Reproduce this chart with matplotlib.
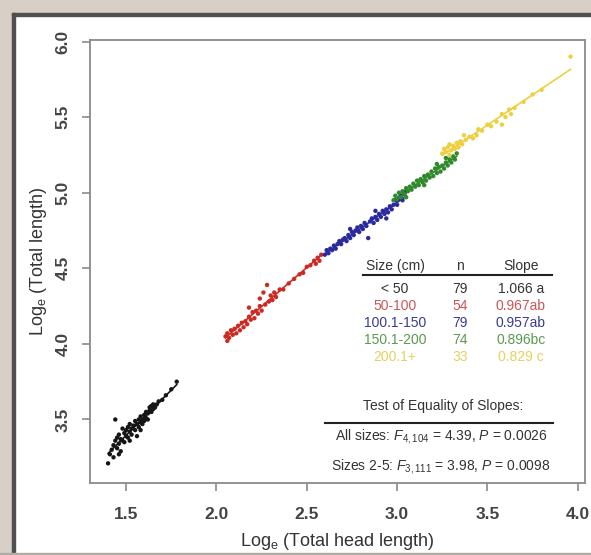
import matplotlib.pyplot as plt
import numpy as np
from matplotlib.patches import Rectangle

plt.rcParams['font.family'] = ['Liberation Sans', 'DejaVu Sans']
plt.rcParams['mathtext.fontset'] = 'custom'
plt.rcParams['mathtext.rm'] = 'Liberation Sans'
plt.rcParams['mathtext.it'] = 'Liberation Sans:italic'

# size classes, table values
size_labels = ['< 50', '50-100', '100.1-150', '150.1-200', '200.1+']
n_values = [79, 54, 79, 74, 33]
slope_labels = ['1.066 a', '0.967ab', '0.957ab', '0.896bc', '0.829 c']

# log head length / log total length
x_lt50 = [1.40, 1.41, 1.42, 1.43, 1.43, 1.44, 1.44, 1.45, 1.45, 1.46, 1.46, 1.47, 1.47, 1.48, 1.48,
          1.49, 1.49, 1.50, 1.50, 1.51, 1.51, 1.52, 1.52, 1.53, 1.53, 1.54, 1.55, 1.55, 1.56, 1.56,
          1.57, 1.57, 1.58, 1.58, 1.59, 1.59, 1.60, 1.60, 1.61, 1.61, 1.62, 1.62, 1.63, 1.63, 1.64,
          1.64, 1.65, 1.65, 1.66, 1.67, 1.68, 1.70, 1.72, 1.75, 1.78, 1.46, 1.52, 1.58]
y_lt50 = [3.21, 3.27, 3.30, 3.25, 3.33, 3.50, 3.36, 3.31, 3.38, 3.34, 3.40, 3.37, 3.29, 3.44, 3.36,
          3.41, 3.35, 3.39, 3.43, 3.38, 3.45, 3.42, 3.47, 3.44, 3.40, 3.46, 3.43, 3.49, 3.39, 3.47,
          3.50, 3.45, 3.48, 3.52, 3.50, 3.47, 3.53, 3.49, 3.51, 3.55, 3.54, 3.50, 3.56, 3.58, 3.55,
          3.59, 3.57, 3.60, 3.58, 3.60, 3.62, 3.63, 3.66, 3.70, 3.75, 3.27, 3.36, 3.43]

x_50 = [2.05, 2.06, 2.06, 2.07, 2.08, 2.09, 2.10, 2.11, 2.12, 2.13, 2.14, 2.15, 2.16, 2.17, 2.18,
        2.19, 2.20, 2.21, 2.22, 2.23, 2.24, 2.25, 2.26, 2.27, 2.28, 2.29, 2.30, 2.31, 2.32, 2.33,
        2.35, 2.37, 2.40, 2.43, 2.46, 2.48, 2.50, 2.52, 2.54, 2.55, 2.56, 2.57, 2.58, 2.24, 2.18]
y_50 = [4.05, 4.02, 4.07, 4.04, 4.09, 4.06, 4.10, 4.07, 4.12, 4.09, 4.14, 4.11, 4.15, 4.13, 4.18,
        4.16, 4.21, 4.17, 4.22, 4.20, 4.25, 4.22, 4.34, 4.26, 4.39, 4.28, 4.32, 4.29, 4.34, 4.31,
        4.36, 4.36, 4.40, 4.43, 4.46, 4.47, 4.51, 4.52, 4.55, 4.53, 4.57, 4.55, 4.59, 4.30, 4.24]

x_100 = [2.60, 2.61, 2.62, 2.63, 2.64, 2.65, 2.66, 2.67, 2.68, 2.69, 2.70, 2.71, 2.72, 2.73, 2.74,
         2.75, 2.76, 2.77, 2.78, 2.79, 2.80, 2.81, 2.82, 2.83, 2.84, 2.85, 2.86, 2.87, 2.88, 2.89,
         2.90, 2.91, 2.92, 2.93, 2.94, 2.95, 2.96, 2.97, 2.98, 2.99, 3.00, 3.01, 3.02, 3.03, 3.04,
         3.05, 2.74, 2.88, 2.94]
y_100 = [4.59, 4.62, 4.60, 4.63, 4.62, 4.65, 4.63, 4.66, 4.68, 4.66, 4.69, 4.70, 4.68, 4.72, 4.70,
         4.74, 4.72, 4.75, 4.77, 4.74, 4.78, 4.76, 4.80, 4.78, 4.70, 4.81, 4.83, 4.80, 4.84, 4.82,
         4.86, 4.84, 4.88, 4.86, 4.89, 4.87, 4.91, 4.89, 4.92, 4.95, 4.92, 4.96, 4.98, 4.95, 4.99,
         5.01, 4.76, 4.88, 4.83]

x_150 = [2.98, 2.99, 3.00, 3.01, 3.02, 3.03, 3.04, 3.05, 3.06, 3.07, 3.08, 3.09, 3.10, 3.11, 3.12,
         3.13, 3.14, 3.15, 3.16, 3.17, 3.18, 3.19, 3.20, 3.21, 3.22, 3.23, 3.24, 3.25, 3.26, 3.27,
         3.28, 3.29, 3.30, 3.31, 3.32, 3.33, 3.15, 3.22, 3.05, 3.27]
y_150 = [4.95, 4.98, 4.96, 5.00, 4.97, 5.01, 4.99, 5.03, 5.01, 5.04, 5.02, 5.06, 5.04, 5.08, 5.05,
         5.09, 5.07, 5.11, 5.08, 5.12, 5.10, 5.14, 5.11, 5.16, 5.13, 5.17, 5.14, 5.18, 5.16, 5.20,
         5.18, 5.22, 5.20, 5.24, 5.22, 5.26, 5.05, 5.19, 4.97, 5.23]

x_200 = [3.25, 3.26, 3.27, 3.28, 3.29, 3.29, 3.30, 3.31, 3.32, 3.33, 3.34, 3.35, 3.36, 3.38, 3.40,
         3.42, 3.45, 3.47, 3.50, 3.52, 3.55, 3.58, 3.60, 3.62, 3.65, 3.70, 3.75, 3.80, 3.96, 3.37,
         3.44, 3.58, 3.63]
y_200 = [5.26, 5.29, 5.27, 5.30, 5.25, 5.32, 5.28, 5.31, 5.29, 5.33, 5.30, 5.34, 5.32, 5.35, 5.37,
         5.36, 5.42, 5.41, 5.45, 5.44, 5.47, 5.52, 5.50, 5.55, 5.56, 5.60, 5.65, 5.68, 5.90, 5.38,
         5.38, 5.45, 5.52]

groups = [(x_lt50, y_lt50), (x_50, y_50), (x_100, y_100), (x_150, y_150), (x_200, y_200)]
colors = ['#151515', '#cc2a22', '#2a2a9c', '#2f8a2a', '#ecd040']
text_colors = ['#333333', '#cc5555', '#3a3a95', '#5a9a50', '#e6d060']

fig = plt.figure(figsize=(5.91, 5.55), dpi=100)
W, H = 591, 555

# window frame of the screenshot
fig.patches.append(Rectangle((0, 1 - 13 / H), 1, 13 / H, transform=fig.transFigure,
                             color='#d8d0c6', zorder=0))
fig.patches.append(Rectangle((0, 0), 12 / W, 1, transform=fig.transFigure,
                             color='#d8d0c6', zorder=0))
fig.patches.append(Rectangle((12 / W, 1 - 16 / H), 1, 3 / H, transform=fig.transFigure,
                             color='#505050', zorder=1))
fig.patches.append(Rectangle((12 / W, 0), 3 / W, 1 - 13 / H, transform=fig.transFigure,
                             color='#505050', zorder=1))
fig.patches.append(Rectangle((0, 0), 1, 2 / H, transform=fig.transFigure,
                             color='#b0aaa4', zorder=1))

ax = fig.add_axes([90 / W, 1 - 483 / H, 495 / W, 443 / H])

for (xs, ys), c in zip(groups, colors):
    xs = np.array(xs)
    ys = np.array(ys)
    ax.scatter(xs, ys, s=10, color=c, edgecolors='none', zorder=3)
    b, a = np.polyfit(xs, ys, 1)
    xl = np.array([xs.min(), xs.max()])
    ax.plot(xl, a + b * xl, color=c, lw=1.2, zorder=2)

ax.set_xlim(1.30, 4.04)
ax.set_ylim(3.08, 6.01)
ax.set_xticks([1.5, 2.0, 2.5, 3.0, 3.5, 4.0])
ax.set_yticks([3.5, 4.0, 4.5, 5.0, 5.5, 6.0])
ax.set_xticklabels(['1.5', '2.0', '2.5', '3.0', '3.5', '4.0'])
ax.set_yticklabels(['3.5', '4.0', '4.5', '5.0', '5.5', '6.0'])

for sp in ax.spines.values():
    sp.set_color('#8a8a8a')
    sp.set_linewidth(1.3)
ax.tick_params(axis='both', colors='#8a8a8a', length=6, width=1.2, labelcolor='#444444',
               labelsize=12.5)
ax.tick_params(axis='x', pad=11)
ax.tick_params(axis='y', pad=8, labelrotation=90)
for lab in ax.get_yticklabels():
    lab.set_va('center')
    lab.set_fontweight('bold')
for lab in ax.get_xticklabels():
    lab.set_fontweight('bold')

ax.set_xlabel(r'Log$_\mathregular{e}$ (Total head length)', fontsize=13, color='#333333',
              labelpad=7)
ax.set_ylabel(r'Log$_\mathregular{e}$ (Total length)', fontsize=13, color='#333333',
              labelpad=5)

# table of slopes
def fx(px):
    return (px - 90) / 495


def fy(py):
    return (483 - py) / 443


col_x = [fx(395), fx(460), fx(521)]
hdr = ['Size (cm)', 'n', 'Slope']
for cx, t in zip(col_x, hdr):
    ax.text(cx, fy(266), t, transform=ax.transAxes, ha='center', va='center',
            fontsize=10, color='#333333')
ax.plot([fx(363), fx(552)], [fy(275), fy(275)], transform=ax.transAxes, color='#222222',
        lw=1.5, clip_on=False)
row_y = [289, 306, 323, 340, 357]
for i in range(len(size_labels)):
    vals = [size_labels[i], str(n_values[i]), slope_labels[i]]
    for cx, t in zip(col_x, vals):
        ax.text(cx, fy(row_y[i]), t, transform=ax.transAxes, ha='center', va='center',
                fontsize=10, color=text_colors[i])

ax.text(fx(443), fy(406), 'Test of Equality of Slopes:', transform=ax.transAxes,
        ha='center', va='center', fontsize=10, color='#333333')
ax.plot([fx(325), fx(553)], [fy(423), fy(423)], transform=ax.transAxes, color='#222222',
        lw=1.5, clip_on=False)
ax.text(fx(441), fy(437), r'All sizes: $F_{4,104}$ = 4.39, $P$ = 0.0026',
        transform=ax.transAxes, ha='center', va='center', fontsize=10, color='#333333')
ax.text(fx(441), fy(466), r'Sizes 2-5: $F_{3,111}$ = 3.98, $P$ = 0.0098',
        transform=ax.transAxes, ha='center', va='center', fontsize=10, color='#333333')

fig.savefig('out.png', dpi=100)
